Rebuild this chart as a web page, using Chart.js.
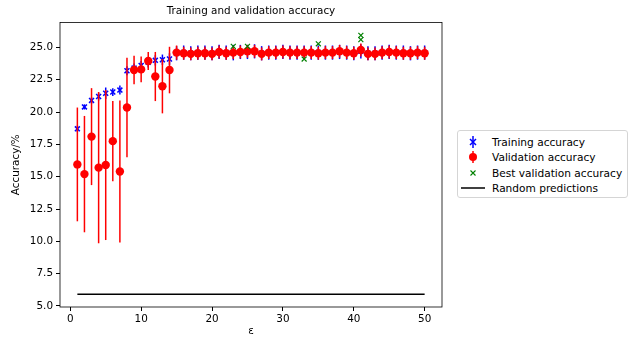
<!DOCTYPE html>
<html>
<head>
<meta charset="utf-8">
<script src="https://cdn.jsdelivr.net/npm/chart.js@4/dist/chart.umd.min.js"></script>
<style>
  body { margin: 0; background: #fff; font-family: "DejaVu Sans", sans-serif; }
  #wrap { position: relative; width: 638px; height: 338px; }
  #chart { position: absolute; left: 0; top: 0; }
  #legend {
    position: absolute; left: 457px; top: 130px; width: 171px; height: 68px;
    border: 1px solid #d5d5d5; border-radius: 3px; background: #fff;
    font-size: 10.6px; color: #000; box-sizing: border-box; padding-top: 3px;
  }
  .row { display: flex; align-items: center; height: 15.5px; }
  .row svg { width: 26px; height: 14px; margin-left: 2px; margin-right: 6px; flex: none; }
</style>
</head>
<body>
<div id="wrap">
  <canvas id="chart" width="638" height="338"></canvas>
  <div id="legend">
    <div class="row"><svg viewBox="0 0 26 14"><line x1="13" y1="1" x2="13" y2="13" stroke="#0000ff" stroke-width="1.5"/><path d="M10 4 L16 10 M16 4 L10 10" stroke="#0000ff" stroke-width="1.5"/></svg>Training accuracy</div>
    <div class="row"><svg viewBox="0 0 26 14"><line x1="13" y1="1" x2="13" y2="13" stroke="#ff0000" stroke-width="1.5"/><circle cx="13" cy="7" r="4" fill="#ff0000"/></svg>Validation accuracy</div>
    <div class="row"><svg viewBox="0 0 26 14"><path d="M10.5 4.5 L15.5 9.5 M15.5 4.5 L10.5 9.5" stroke="#008000" stroke-width="1.1"/></svg>Best validation accuracy</div>
    <div class="row"><svg viewBox="0 0 26 14"><line x1="1" y1="7" x2="25" y2="7" stroke="#000" stroke-width="1.5"/></svg>Random predictions</div>
  </div>
</div>
<script>
const epochs = [1, 2, 3, 4, 5, 6, 7, 8, 9, 10, 11, 12, 13, 14, 15, 16, 17, 18, 19, 20,
  21, 22, 23, 24, 25, 26, 27, 28, 29, 30, 31, 32, 33, 34, 35, 36, 37, 38, 39, 40,
  41, 42, 43, 44, 45, 46, 47, 48, 49, 50];
const trainAcc = [18.7, 20.4, 20.9, 21.2, 21.45, 21.55, 21.7, 23.2, 23.4, 23.6,
  23.85, 24.0, 24.05, 24.1, 24.55, 24.6, 24.55, 24.6, 24.6, 24.55,
  24.65, 24.6, 24.6, 24.65, 24.65, 24.7, 24.55, 24.6, 24.6, 24.65,
  24.6, 24.6, 24.6, 24.6, 24.6, 24.6, 24.6, 24.65, 24.6, 24.55,
  24.7, 24.55, 24.55, 24.6, 24.65, 24.6, 24.6, 24.55, 24.6, 24.6];
const trainErr = [0.25, 0.2, 0.25, 0.3, 0.45, 0.3, 0.35, 0.35, 0.35, 0.35,
  0.4, 0.4, 0.4, 0.45, 0.55, 0.55, 0.55, 0.55, 0.55, 0.55,
  0.55, 0.55, 0.6, 0.55, 0.55, 0.55, 0.55, 0.55, 0.55, 0.55,
  0.55, 0.55, 0.55, 0.55, 0.55, 0.55, 0.55, 0.55, 0.55, 0.55,
  0.55, 0.55, 0.55, 0.55, 0.55, 0.55, 0.55, 0.55, 0.55, 0.55];
const valAcc = [15.95, 15.2, 18.1, 15.7, 15.9, 17.75, 15.4, 20.35, 23.25, 23.3,
  23.95, 22.75, 22.0, 23.25, 24.6, 24.55, 24.5, 24.55, 24.55, 24.5,
  24.65, 24.55, 24.6, 24.65, 24.7, 24.7, 24.5, 24.6, 24.6, 24.65,
  24.6, 24.6, 24.6, 24.6, 24.55, 24.6, 24.6, 24.7, 24.6, 24.55,
  24.8, 24.5, 24.5, 24.6, 24.65, 24.6, 24.55, 24.55, 24.6, 24.55];
const valErr = [4.4, 4.5, 3.75, 5.85, 5.8, 3.1, 5.5, 3.85, 1.1, 1.0,
  0.7, 1.9, 2.1, 1.8, 0.55, 0.5, 0.5, 0.5, 0.5, 0.5,
  0.5, 0.5, 0.5, 0.5, 0.5, 0.5, 0.5, 0.5, 0.5, 0.5,
  0.5, 0.5, 0.5, 0.5, 0.5, 0.5, 0.5, 0.5, 0.5, 0.5,
  0.5, 0.5, 0.5, 0.5, 0.5, 0.5, 0.5, 0.5, 0.5, 0.5];
const bestEpochs = [23, 25, 33, 35, 41, 41];
const bestAcc = [25.08, 25.08, 24.1, 25.28, 25.93, 25.6];
const randomAcc = 5.9;
const xTicks = [0, 10, 20, 30, 40, 50];
const yTicks = [5, 7.5, 10, 12.5, 15, 17.5, 20, 22.5, 25];

// error bars drawn just before each dataset's markers, plus the box round the plot
const errorBars = {
  id: 'errorBars',
  beforeDatasetDraw(chart, args) {
    const ds = chart.data.datasets[args.index];
    if (!ds.errors) return;
    const ctx = chart.ctx;
    const xs = args.meta.xScale, ys = args.meta.yScale;
    ctx.save();
    ctx.strokeStyle = ds.borderColor;
    ctx.lineWidth = 1.5;
    ds.data.forEach((p, i) => {
      const px = xs.getPixelForValue(p.x);
      ctx.beginPath();
      ctx.moveTo(px, ys.getPixelForValue(p.y - ds.errors[i]));
      ctx.lineTo(px, ys.getPixelForValue(p.y + ds.errors[i]));
      ctx.stroke();
    });
    ctx.restore();
  },
  afterDraw(chart) {
    const {ctx, chartArea: a} = chart;
    ctx.save();
    ctx.strokeStyle = '#000';
    ctx.lineWidth = 0.8;
    ctx.strokeRect(a.left, a.top, a.right - a.left, a.bottom - a.top);
    ctx.restore();
  }
};

const points = (xs, ys) => xs.map((x, i) => ({ x: x, y: ys[i] }));
const font = { family: 'DejaVu Sans', size: 10.4, weight: 'normal' };

new Chart(document.getElementById('chart'), {
  type: 'scatter',
  data: {
    datasets: [{
      label: 'Training accuracy',
      data: points(epochs, trainAcc),
      errors: trainErr,
      pointStyle: 'crossRot',
      pointRadius: 3.5,
      borderWidth: 1.5,
      borderColor: '#0000ff',
      backgroundColor: '#0000ff',
      order: 3
    }, {
      label: 'Validation accuracy',
      data: points(epochs, valAcc),
      errors: valErr,
      pointStyle: 'circle',
      pointRadius: 4.2,
      borderWidth: 0,
      borderColor: '#ff0000',
      backgroundColor: '#ff0000',
      order: 2
    }, {
      label: 'Best validation accuracy',
      data: points(bestEpochs, bestAcc),
      pointStyle: 'crossRot',
      pointRadius: 3.5,
      borderWidth: 1.2,
      borderColor: '#008000',
      backgroundColor: '#008000',
      order: 1
    }, {
      type: 'line',
      label: 'Random predictions',
      data: [{ x: epochs[0], y: randomAcc }, { x: epochs[epochs.length - 1], y: randomAcc }],
      borderColor: '#000',
      borderWidth: 1.5,
      pointRadius: 0,
      order: 0
    }]
  },
  options: {
    responsive: false,
    animation: false,
    devicePixelRatio: 1,
    layout: { padding: { left: 0, right: 196, top: 0, bottom: 0 } },
    plugins: {
      legend: { display: false },
      tooltip: { enabled: false },
      title: {
        display: true,
        text: 'Training and validation accuracy',
        fullSize: false,
        color: '#000',
        font: font,
        padding: { top: 5, bottom: 5 }
      }
    },
    scales: {
      x: {
        type: 'linear',
        min: -1.45,
        max: 52.45,
        afterBuildTicks: s => { s.ticks = xTicks.map(v => ({ value: v })); },
        afterFit: s => { s.height = 31; },
        grid: { display: true, drawOnChartArea: false, tickLength: 4, color: '#000' },
        border: { display: false },
        ticks: { color: '#000', font: font, padding: 2, maxRotation: 0 },
        title: { display: true, text: 'ε', color: '#000', font: font, padding: { top: 0, bottom: 0 } }
      },
      y: {
        min: 4.92,
        max: 26.93,
        afterBuildTicks: s => { s.ticks = yTicks.map(v => ({ value: v })); },
        afterFit: s => { s.width = 60; },
        grid: { display: true, drawOnChartArea: false, tickLength: 4, color: '#000' },
        border: { display: false },
        ticks: { color: '#000', font: font, padding: 3, callback: v => v.toFixed(1) },
        title: { display: true, text: 'Accuracy/%', color: '#000', font: font, padding: { top: 10, bottom: 0 } }
      }
    }
  },
  plugins: [errorBars]
});
</script>
</body>
</html>
